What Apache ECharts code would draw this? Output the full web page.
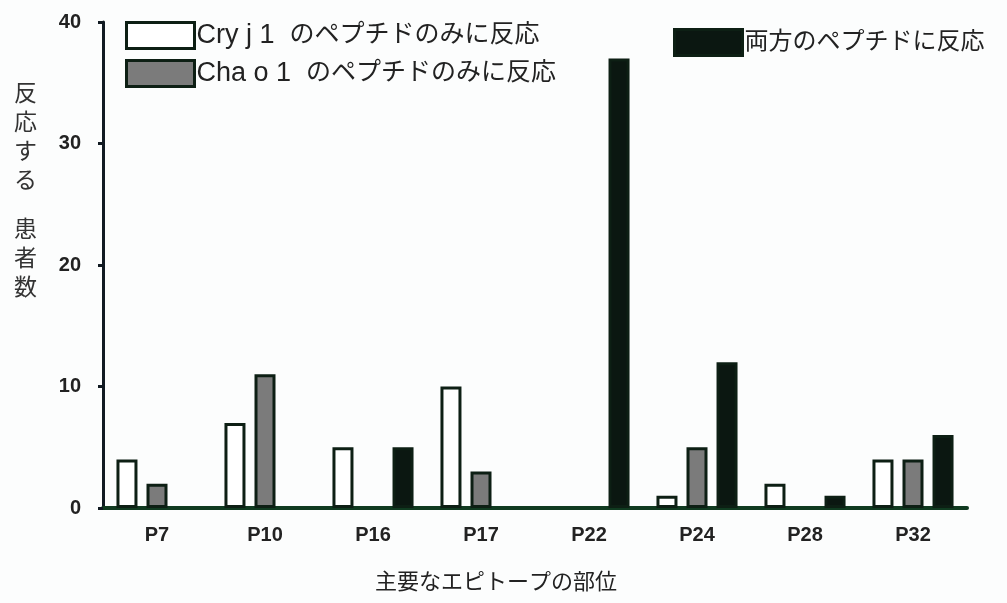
<!DOCTYPE html>
<html>
<head>
<meta charset="utf-8">
<script src="https://cdn.jsdelivr.net/npm/echarts@6/dist/echarts.min.js"></script>
<style>
  html, body { margin: 0; padding: 0; background: #fcfdfd; }
  #epitopeChart { width: 1007px; height: 603px; }
</style>
</head>
<body>
<div id="epitopeChart"></div>
<script>
const categories = ["P7", "P10", "P16", "P17", "P22", "P24", "P28", "P32"];
const cryOnly = [4, 7, 5, 10, null, 1, 2, 4];
const chaOnly = [2, 11, null, 3, null, 5, null, 4];
const both = [null, null, 5, null, 37, 12, 1, 6];
const yTicks = [0, 10, 20, 30, 40];

const seriesNames = [
  "Cry j 1  のペプチドのみに反応",
  "Cha o 1  のペプチドのみに反応",
  "両方のペプチドに反応",
];

const font = "'Liberation Sans', 'Noto Sans CJK JP', sans-serif";
const edge = "#0d1f14";

const chart = echarts.init(document.getElementById("epitopeChart"));

// latin part a bit larger than the kana, as in the scan
const legendLabel = (name) => {
  const i = name.indexOf("  ");
  if (i < 0) return "{b|" + name + "}";
  return "{a|" + name.slice(0, i + 2) + "}{b|" + name.slice(i + 2) + "}";
};

const legendBox = (name, left, top, jpSize) => ({
  data: [name],
  left: left,
  top: top,
  padding: 0,
  icon: "rect",
  itemWidth: 68,
  itemHeight: 26,
  selectedMode: false,
  itemStyle: { borderWidth: 3, borderColor: edge },
  formatter: legendLabel,
  textStyle: {
    color: "#222",
    fontFamily: font,
    padding: [0, 0, 0, -3],
    rich: {
      a: { fontSize: 27, color: "#222", fontFamily: font },
      b: { fontSize: jpSize, color: "#222", fontFamily: font },
    },
  },
});

chart.setOption({
  backgroundColor: "#fcfdfd",
  animation: false,
  legend: [
    legendBox(seriesNames[0], 125, 21, 25),
    legendBox(seriesNames[1], 125, 59, 25),
    legendBox(seriesNames[2], 673, 28, 24),
  ],
  grid: { left: 103, right: 40, top: 22, bottom: 95 },
  xAxis: {
    type: "category",
    data: categories,
    axisLine: { lineStyle: { color: "#103a20", width: 4 } },
    axisTick: { alignWithLabel: true, length: 6, lineStyle: { color: "#103a20", width: 3 } },
    axisLabel: { fontSize: 20, fontWeight: "bold", color: "#222", margin: 17, fontFamily: font },
  },
  yAxis: {
    type: "value",
    min: yTicks[0],
    max: yTicks[yTicks.length - 1],
    interval: 10,
    splitLine: { show: false },
    axisLine: { show: true, lineStyle: { color: "#111a22", width: 3 } },
    axisTick: { show: true, length: 5, lineStyle: { color: "#111a22", width: 3 } },
    axisLabel: { fontSize: 20, fontWeight: "bold", color: "#222", margin: 22, fontFamily: font },
  },
  graphic: [
    {
      type: "text",
      left: 14,
      top: 80,
      style: { text: "反\n応\nす\nる", fontSize: 23, lineHeight: 29, fill: "#333", fontFamily: font },
    },
    {
      type: "text",
      left: 14,
      top: 216,
      style: { text: "患\n者\n数", fontSize: 23, lineHeight: 29, fill: "#333", fontFamily: font },
    },
    {
      type: "text",
      x: 496,
      y: 583,
      style: {
        text: "主要なエピトープの部位",
        fontSize: 22,
        fill: "#222",
        fontFamily: font,
        align: "center",
        verticalAlign: "middle",
      },
    },
  ],
  series: [
    {
      name: seriesNames[0],
      type: "bar",
      data: cryOnly,
      barWidth: 21,
      barGap: "43%",
      itemStyle: { color: "#ffffff", borderColor: edge, borderWidth: 3 },
    },
    {
      name: seriesNames[1],
      type: "bar",
      data: chaOnly,
      barWidth: 21,
      barGap: "43%",
      itemStyle: { color: "#7b7b7b", borderColor: edge, borderWidth: 3 },
    },
    {
      name: seriesNames[2],
      type: "bar",
      data: both,
      barWidth: 21,
      barGap: "43%",
      itemStyle: { color: "#0b1711", borderColor: edge, borderWidth: 3 },
    },
  ],
});

window.addEventListener("resize", () => {
  chart.resize();
});
</script>
</body>
</html>
